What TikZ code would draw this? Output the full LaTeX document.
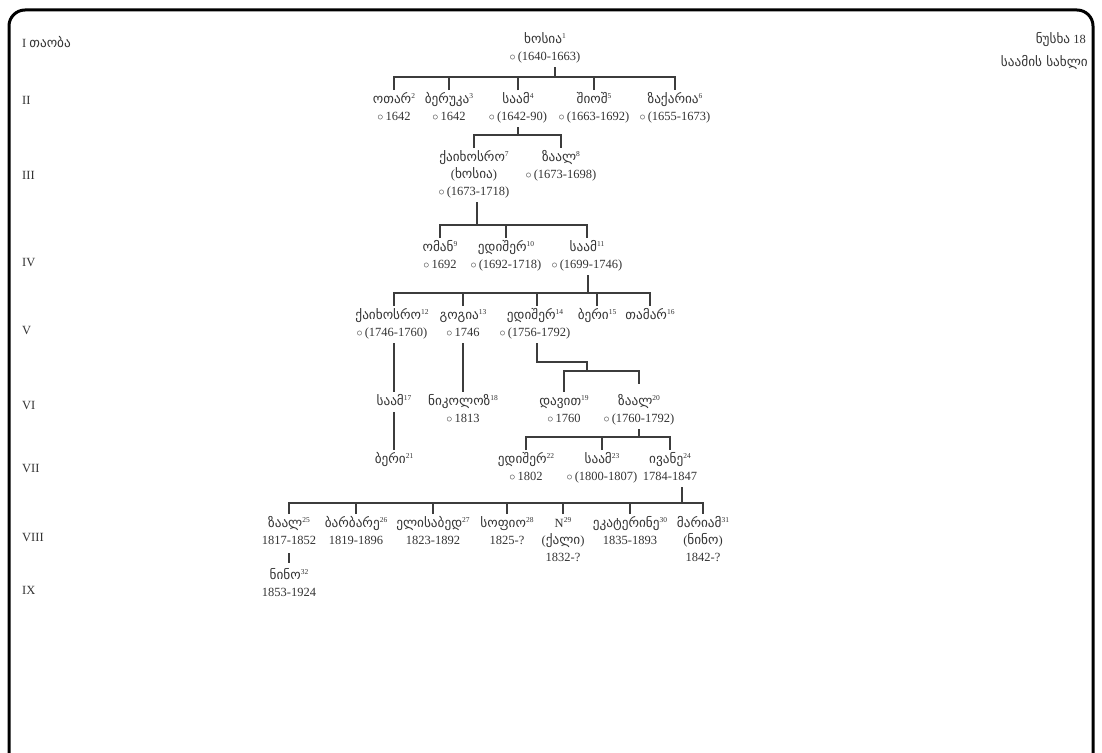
\documentclass[tikz,border=0pt]{standalone}
\usepackage{fontspec}
\setmainfont{Liberation Serif}
\newfontfamily\geo{DejaVu Sans}[Scale=1.06]
\newcommand{\sups}[1]{\raisebox{0.85ex}{\fontsize{7.5}{7.5}\selectfont #1}}
\newcommand{\gn}[2]{{\geo #1}\sups{#2}}
\newcommand{\oc}{{\fontsize{13}{13}\selectfont$\circ$}\,}
\definecolor{txt}{HTML}{333333}
\definecolor{lin}{HTML}{3c3c3c}
\begin{document}
\begin{tikzpicture}[x=1pt,y=-1pt,
  every node/.style={text=txt},
  person/.style={align=center, anchor=north, inner sep=1.5pt, font=\fontsize{12.5}{17}\selectfont},
  lbl/.style={anchor=west, inner sep=0pt, font=\fontsize{12.5}{14}\selectfont},
  rlbl/.style={anchor=east, inner sep=0pt, font=\fontsize{12.5}{14}\selectfont},
  link/.style={draw=lin, line width=1.2pt}]
\useasboundingbox (0,0) rectangle (1102,752);
\draw[line width=3pt, rounded corners=16pt] (9,10) rectangle (1093,772);

% generation labels
\node[lbl] (g1) at (22,42) {I {\geo თაობა}};
\node[lbl] (g2) at (22,100) {II};
\node[lbl] (g3) at (22,175) {III};
\node[lbl] (g4) at (22,262) {IV};
\node[lbl] (g5) at (22,330) {V};
\node[lbl] (g6) at (22,405) {VI};
\node[lbl] (g7) at (22,468) {VII};
\node[lbl] (g8) at (22,537) {VIII};
\node[lbl] (g9) at (22,590) {IX};
\node[rlbl] (ns) at (1086,40) {{\geo ნუსხა} 18};
\node[rlbl] (sx) at (1088,62) {\geo საამის სახლი};

% persons
\node[person] (p1) at (545,30) {\strut\gn{ხოსია}{1}\\\oc(1640-1663)\strut};

\node[person] (p2) at (394,90) {\strut\gn{ოთარ}{2}\\\oc1642\strut};
\node[person] (p3) at (449,90) {\strut\gn{ბერუკა}{3}\\\oc1642\strut};
\node[person] (p4) at (518,90) {\strut\gn{საამ}{4}\\\oc(1642-90)\strut};
\node[person] (p5) at (594,90) {\strut\gn{შიოშ}{5}\\\oc(1663-1692)\strut};
\node[person] (p6) at (675,90) {\strut\gn{ზაქარია}{6}\\\oc(1655-1673)\strut};

\node[person] (p7) at (474,148) {\strut\gn{ქაიხოსრო}{7}\\({\geo ხოსია})\\\oc(1673-1718)\strut};
\node[person] (p8) at (561,148) {\strut\gn{ზაალ}{8}\\\oc(1673-1698)\strut};

\node[person] (p9) at (440,238) {\strut\gn{ომან}{9}\\\oc1692\strut};
\node[person] (p10) at (506,238) {\strut\gn{ედიშერ}{10}\\\oc(1692-1718)\strut};
\node[person] (p11) at (587,238) {\strut\gn{საამ}{11}\\\oc(1699-1746)\strut};

\node[person] (p12) at (392,306) {\strut\gn{ქაიხოსრო}{12}\\\oc(1746-1760)\strut};
\node[person] (p13) at (463,306) {\strut\gn{გოგია}{13}\\\oc1746\strut};
\node[person] (p14) at (535,306) {\strut\gn{ედიშერ}{14}\\\oc(1756-1792)\strut};
\node[person] (p15) at (597,306) {\strut\gn{ბერი}{15}\strut};
\node[person] (p16) at (650,306) {\strut\gn{თამარ}{16}\strut};

\node[person] (p17) at (394,392) {\strut\gn{საამ}{17}\strut};
\node[person] (p18) at (463,392) {\strut\gn{ნიკოლოზ}{18}\\\oc1813\strut};
\node[person] (p19) at (564,392) {\strut\gn{დავით}{19}\\\oc1760\strut};
\node[person] (p20) at (639,392) {\strut\gn{ზაალ}{20}\\\oc(1760-1792)\strut};

\node[person] (p21) at (394,450) {\strut\gn{ბერი}{21}\strut};
\node[person] (p22) at (526,450) {\strut\gn{ედიშერ}{22}\\\oc1802\strut};
\node[person] (p23) at (602,450) {\strut\gn{საამ}{23}\\\oc(1800-1807)\strut};
\node[person] (p24) at (670,450) {\strut\gn{ივანე}{24}\\1784-1847\strut};

\node[person] (p25) at (289,514) {\strut\gn{ზაალ}{25}\\1817-1852\strut};
\node[person] (p26) at (356,514) {\strut\gn{ბარბარე}{26}\\1819-1896\strut};
\node[person] (p27) at (433,514) {\strut\gn{ელისაბედ}{27}\\1823-1892\strut};
\node[person] (p28) at (507,514) {\strut\gn{სოფიო}{28}\\1825-?\strut};
\node[person] (p29) at (563,514) {\strut N\sups{29}\\({\geo ქალი})\\1832-?\strut};
\node[person] (p30) at (630,514) {\strut\gn{ეკატერინე}{30}\\1835-1893\strut};
\node[person] (p31) at (703,514) {\strut\gn{მარიამ}{31}\\({\geo ნინო})\\1842-?\strut};

\node[person] (p32) at (289,566) {\strut\gn{ნინო}{32}\\1853-1924\strut};

% bars
\coordinate (b1) at (0,77);
\coordinate (b2) at (0,135);
\coordinate (b3) at (0,225);
\coordinate (b4) at (0,293);
\coordinate (b5a) at (0,362);
\coordinate (b5) at (0,371);
\coordinate (b6) at (0,437);
\coordinate (b7) at (0,503);

% gen I -> II
\draw[link] ([xshift=10pt]p1.south) -- ([xshift=10pt]p1.south |- b1);
\draw[link] (p2.north) -- (p2.north |- b1) -- (p6.north |- b1) -- (p6.north);
\foreach \n in {p3,p4,p5} \draw[link] (\n.north) -- (\n.north |- b1);
% gen II -> III
\draw[link] (p4.south) -- (p4.south |- b2);
\draw[link] (p7.north) -- (p7.north |- b2) -- (p8.north |- b2) -- (p8.north);
% gen III -> IV
\draw[link] ([xshift=3pt]p7.south) -- ([xshift=3pt]p7.south |- b3);
\draw[link] (p9.north) -- (p9.north |- b3) -- (p11.north |- b3) -- (p11.north);
\draw[link] (p10.north) -- (p10.north |- b3);
% gen IV -> V
\draw[link] ([xshift=1pt]p11.south) -- ([xshift=1pt]p11.south |- b4);
\draw[link] ([xshift=2pt]p12.north) -- ([xshift=2pt]p12.north |- b4) -- (p16.north |- b4) -- (p16.north);
\foreach \n in {p13,p15} \draw[link] (\n.north) -- (\n.north |- b4);
\draw[link] ([xshift=2pt]p14.north) -- ([xshift=2pt]p14.north |- b4);
% gen V -> VI
\draw[link] ([xshift=2pt]p12.south) -- (p17.north);
\draw[link] (p13.south) -- (p18.north);
\draw[link] ([xshift=2pt]p14.south) -- ([xshift=2pt]p14.south |- b5a) -- ([xshift=-52pt]p20.north |- b5a) -- ([xshift=-52pt]p20.north |- b5);
\draw[link, shorten >=8pt] (p19.north) -- (p19.north |- b5) -- (p20.north |- b5) -- (p20.north);
\draw[link, shorten >=8pt] (p19.north |- b5) -- (p19.north);
% gen VI -> VII
\draw[link] (p17.south) -- (p21.north);
\draw[link] (p20.south) -- (p20.south |- b6);
\draw[link] (p22.north) -- (p22.north |- b6) -- (p24.north |- b6) -- (p24.north);
\draw[link] (p23.north) -- (p23.north |- b6);
% gen VII -> VIII
\draw[link] ([xshift=12pt]p24.south) -- ([xshift=12pt]p24.south |- b7);
\draw[link] (p25.north) -- (p25.north |- b7) -- (p31.north |- b7) -- (p31.north);
\foreach \n in {p26,p27,p28,p29,p30} \draw[link] (\n.north) -- (\n.north |- b7);
% gen VIII -> IX
\draw[link, shorten <=2pt, shorten >=3pt] (p25.south) -- (p32.north);
\end{tikzpicture}
\end{document}
